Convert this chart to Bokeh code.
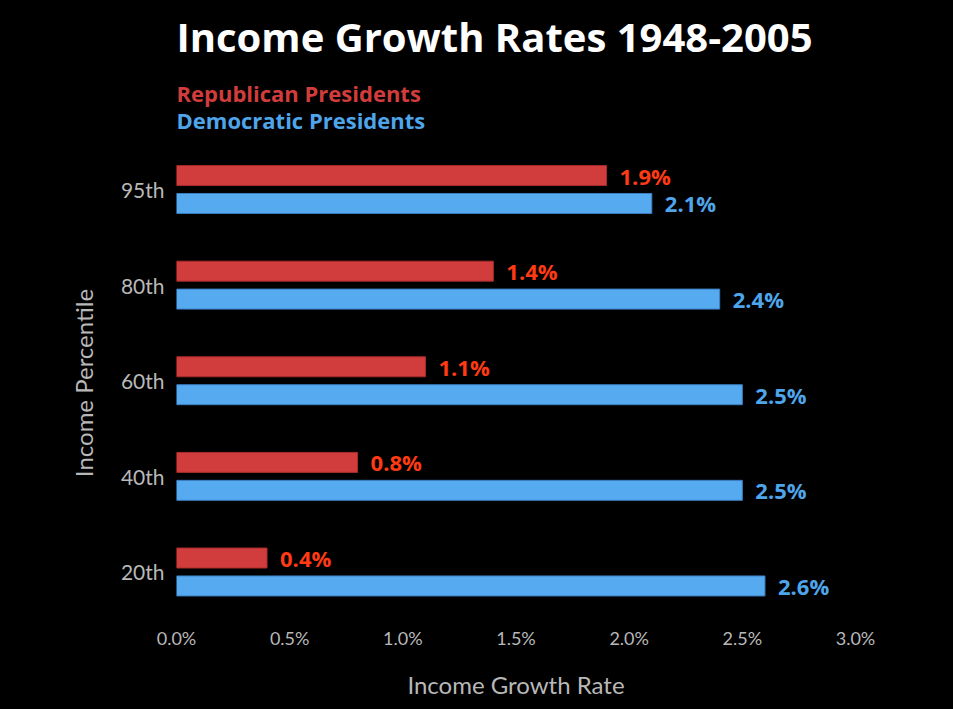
from bokeh.plotting import figure
from bokeh.layouts import column
from bokeh.models import FixedTicker, PrintfTickFormatter, ColumnDataSource, Range1d
from bokeh.transform import dodge
from bokeh.core.properties import value
from bokeh.embed import file_html
from bokeh.resources import INLINE

# ---- data ----
title_text = "Income Growth Rates 1948-2005"
series_names = ["Republican Presidents", "Democratic Presidents"]
percentiles = ["95th", "80th", "60th", "40th", "20th"]
republican = [1.9, 1.4, 1.1, 0.8, 0.4]
democratic = [2.1, 2.4, 2.5, 2.5, 2.6]
x_ticks = [0.0, 0.5, 1.0, 1.5, 2.0, 2.5, 3.0]
positions = [5, 4, 3, 2, 1]

RED_BAR = "#d13c3c"
RED_TXT = "#ff3a14"
BLUE_BAR = "#55aaf0"
BLUE_TXT = "#4fa5ea"
GRAY = "#b8b8b8"
BLACK_BG = {"background-color": "black"}

# ---------------- header (title + colour key) ----------------
HEADER_H = 150
head = figure(
    width=953, height=HEADER_H,
    min_border_left=176, min_border_right=0, min_border_top=0, min_border_bottom=0,
    x_range=Range1d(0, 1), y_range=Range1d(HEADER_H, 0),
    x_axis_type=None, y_axis_type=None,
    output_backend="svg", toolbar_location=None,
    background_fill_color="black", border_fill_color="black",
    outline_line_color="black", outline_line_width=3,
    styles=BLACK_BG,
)
head.title.visible = False
head.xgrid.visible = False
head.ygrid.visible = False

head.text(x=[0], y=[36], text=[title_text], text_color="white",
          text_font=value("Open Sans"), text_font_style="bold", text_font_size="40px",
          text_align="left", text_baseline="alphabetic")
head.text(x=[0, 0], y=[92, 119.5], text=series_names, text_color=[RED_BAR, BLUE_TXT],
          text_font=value("Open Sans"), text_font_style="bold", text_font_size="22px",
          text_align="left", text_baseline="alphabetic")

# ---------------- bar chart ----------------
src = ColumnDataSource(dict(
    pos=positions,
    rep=republican,
    dem=democratic,
    rep_lbl=["%.1f%%" % v for v in republican],
    dem_lbl=["%.1f%%" % v for v in democratic],
))

p = figure(
    frame_width=679, frame_height=465,
    min_border_left=176, min_border_right=98,
    min_border_top=0, min_border_bottom=94,
    x_range=Range1d(0, 3.0), y_range=Range1d(0.545, 5.408),
    output_backend="svg", toolbar_location=None,
    background_fill_color="black", border_fill_color="black",
    outline_line_color="black", outline_line_width=3,
    styles=BLACK_BG,
)
p.title.visible = False

off = 0.146
h = 0.209
p.hbar(y=dodge("pos", off, range=p.y_range), right="rep", left=0, height=h,
       source=src, fill_color=RED_BAR, line_color="#a82c2c", line_width=1)
p.hbar(y=dodge("pos", -off, range=p.y_range), right="dem", left=0, height=h,
       source=src, fill_color=BLUE_BAR, line_color="#3b7fc2", line_width=1)

p.text(x="rep", y=dodge("pos", off, range=p.y_range), text="rep_lbl", source=src,
       x_offset=13, text_baseline="middle", text_color=RED_TXT,
       text_font=value("Open Sans"), text_font_style="bold", text_font_size="22px")
p.text(x="dem", y=dodge("pos", -off, range=p.y_range), text="dem_lbl", source=src,
       x_offset=13, text_baseline="middle", text_color=BLUE_TXT,
       text_font=value("Open Sans"), text_font_style="bold", text_font_size="22px")

p.xgrid.visible = False
p.ygrid.visible = False

xa = p.xaxis[0]
xa.ticker = FixedTicker(ticks=x_ticks)
xa.formatter = PrintfTickFormatter(format="%.1f%%")
xa.axis_label = "Income Growth Rate"
ya = p.yaxis[0]
ya.ticker = FixedTicker(ticks=positions)
ya.major_label_overrides = {pos: lab for pos, lab in zip(positions, percentiles)}
ya.axis_label = "Income Percentile"

for ax in (xa, ya):
    ax.axis_line_color = None
    ax.major_tick_line_color = None
    ax.minor_tick_line_color = None
    ax.major_label_text_color = GRAY
    ax.major_label_text_font = "Lato"
    ax.axis_label_text_color = GRAY
    ax.axis_label_text_font = "Lato"
    ax.axis_label_text_font_style = "normal"
    ax.axis_label_text_font_size = "24px"

xa.major_label_text_font_size = "18px"
xa.major_label_standoff = 5
xa.axis_label_standoff = 18
ya.major_label_text_font_size = "21px"
ya.major_label_standoff = 6
ya.axis_label_standoff = 20

layout = column(head, p, spacing=0, styles=BLACK_BG)
open("out.html", "w").write(file_html(layout, INLINE))
